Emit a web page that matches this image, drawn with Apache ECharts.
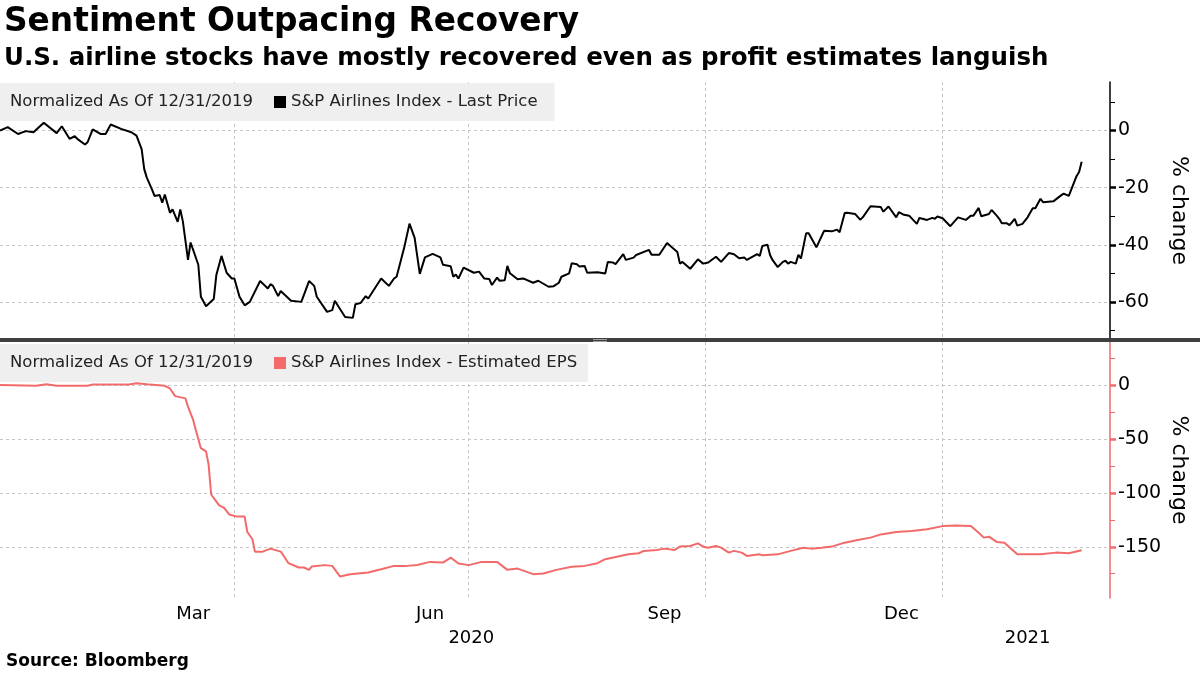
<!DOCTYPE html>
<html>
<head>
<meta charset="utf-8">
<script src="https://cdn.jsdelivr.net/npm/echarts@6/dist/echarts.min.js"></script>
<style>
html,body{margin:0;padding:0;background:#ffffff;}
#chart{width:1200px;height:675px;}
</style>
</head>
<body>
<div id="chart"></div>
<script>
// ---------- text ----------
const titleText = 'Sentiment Outpacing Recovery';
const subtitleText = 'U.S. airline stocks have mostly recovered even as profit estimates languish';
const sourceText = 'Source: Bloomberg';
const normText = 'Normalized As Of 12/31/2019';
const priceName = 'S&P Airlines Index - Last Price';
const epsName = 'S&P Airlines Index - Estimated EPS';
const axisName = '% change';

// ---------- axes ----------
const axisMin = '2020-01-01';
const axisMax = '2021-03-07';
const quarterLines = ['2020-04-01', '2020-07-01', '2020-10-01', '2021-01-01'];
const monthLabels = ['Mar', 'Jun', 'Sep', 'Dec'];
const monthLabelDates = ['2020-03-16', '2020-06-16', '2020-09-15', '2020-12-16'];
const yearLabels = ['2020', '2021'];
const yearLabelDates = ['2020-07-02', '2021-02-03'];
const priceTicksMajor = [0, -20, -40, -60];
const priceTicksMinor = [10, -10, -30, -50, -70];
const priceRange = [-73, 17];
const epsTicksMajor = [0, -50, -100, -150];
const epsTicksMinor = [25, -25, -75, -125, -175];
const epsRange = [-197.5, 40];

// ---------- data: S&P Airlines Index, last price, % change ----------
const priceDates = [
'2020-01-01','2020-01-04','2020-01-08','2020-01-11','2020-01-14','2020-01-18','2020-01-23','2020-01-25','2020-01-28','2020-01-30',
'2020-01-31','2020-02-03','2020-02-04','2020-02-06','2020-02-09','2020-02-11','2020-02-13','2020-02-17','2020-02-21','2020-02-23',
'2020-02-25','2020-02-26','2020-02-27','2020-02-29','2020-03-01','2020-03-03','2020-03-04','2020-03-05','2020-03-07','2020-03-08',
'2020-03-10','2020-03-11','2020-03-12','2020-03-14','2020-03-15','2020-03-18','2020-03-19','2020-03-21','2020-03-24','2020-03-25',
'2020-03-27','2020-03-29','2020-03-31','2020-04-01','2020-04-03','2020-04-05','2020-04-07','2020-04-11','2020-04-14','2020-04-15',
'2020-04-16','2020-04-18','2020-04-19','2020-04-23','2020-04-27','2020-04-30','2020-05-02','2020-05-03','2020-05-07','2020-05-09',
'2020-05-10','2020-05-14','2020-05-17','2020-05-18','2020-05-20','2020-05-22','2020-05-23','2020-05-28','2020-05-31','2020-06-02',
'2020-06-03','2020-06-06','2020-06-08','2020-06-10','2020-06-12','2020-06-14','2020-06-17','2020-06-20','2020-06-21','2020-06-24',
'2020-06-25','2020-06-26','2020-06-27','2020-06-29','2020-07-03','2020-07-05','2020-07-07','2020-07-09','2020-07-10','2020-07-12',
'2020-07-13','2020-07-15','2020-07-16','2020-07-17','2020-07-20','2020-07-22','2020-07-23','2020-07-26','2020-07-28','2020-08-01',
'2020-08-03','2020-08-05','2020-08-06','2020-08-09','2020-08-10','2020-08-12','2020-08-13','2020-08-15','2020-08-16','2020-08-20',
'2020-08-23','2020-08-24','2020-08-26','2020-08-27','2020-08-30','2020-08-31','2020-09-03','2020-09-04','2020-09-09','2020-09-10',
'2020-09-13','2020-09-16','2020-09-20','2020-09-21','2020-09-22','2020-09-25','2020-09-28','2020-09-30','2020-10-02','2020-10-05',
'2020-10-07','2020-10-10','2020-10-12','2020-10-14','2020-10-16','2020-10-17','2020-10-21','2020-10-22','2020-10-23','2020-10-25',
'2020-10-26','2020-10-27','2020-10-29','2020-10-31','2020-11-01','2020-11-02','2020-11-03','2020-11-05','2020-11-06','2020-11-07',
'2020-11-09','2020-11-10','2020-11-13','2020-11-16','2020-11-19','2020-11-21','2020-11-22','2020-11-24','2020-11-25','2020-11-28',
'2020-11-30','2020-12-01','2020-12-04','2020-12-08','2020-12-09','2020-12-11','2020-12-14','2020-12-15','2020-12-17','2020-12-19',
'2020-12-22','2020-12-23','2020-12-26','2020-12-28','2020-12-29','2020-12-30','2021-01-01','2021-01-04','2021-01-07','2021-01-10',
'2021-01-12','2021-01-13','2021-01-15','2021-01-16','2021-01-19','2021-01-20','2021-01-22','2021-01-23','2021-01-24','2021-01-26',
'2021-01-27','2021-01-29','2021-01-30','2021-02-01','2021-02-03','2021-02-05','2021-02-06','2021-02-08','2021-02-09','2021-02-13',
'2021-02-16','2021-02-17','2021-02-19','2021-02-22','2021-02-23','2021-02-24'
];
const priceValues = [
0, 1.2, -1.2, -0.2, -0.6, 2.7, -0.9, 1.5, -2.9, -2.0,
-2.9, -4.9, -4.1, 0.4, -1.2, -1.2, 2.1, 0.6, -0.6, -1.8,
-6.5, -13.5, -16.5, -20.6, -22.9, -22.6, -25.3, -22.4, -28.8, -27.6,
-32.0, -27.6, -31.8, -45.3, -39.2, -47.0, -58.2, -61.5, -59.0, -50.6,
-43.9, -49.8, -51.8, -51.8, -58.2, -61.2, -60.0, -52.7, -55.3, -53.8,
-54.4, -58.0, -56.2, -59.6, -60.0, -52.7, -54.4, -58.2, -63.5, -62.9,
-59.6, -65.3, -65.6, -60.8, -60.4, -58.0, -58.8, -51.8, -54.4, -51.8,
-51.2, -40.8, -32.6, -37.6, -50.2, -44.4, -43.2, -44.4, -47.0, -47.5,
-51.2, -50.4, -51.8, -48.0, -49.8, -49.4, -51.8, -52.0, -54.1, -51.5,
-52.6, -52.4, -47.4, -50.0, -52.1, -51.8, -52.1, -53.3, -52.6, -54.7,
-54.5, -53.3, -51.2, -50.0, -46.5, -46.8, -47.6, -47.4, -49.8, -49.6,
-50.1, -46.0, -46.2, -46.8, -43.3, -45.3, -44.5, -43.6, -41.8, -43.5,
-43.5, -39.4, -42.5, -46.6, -46.0, -48.4, -45.1, -46.6, -46.2, -44.2,
-46.0, -42.9, -43.3, -44.7, -44.5, -45.3, -43.3, -43.9, -40.4, -40.0,
-43.6, -45.4, -47.8, -46.0, -45.6, -46.6, -46.0, -46.6, -43.5, -44.8,
-36.0, -36.0, -40.9, -35.1, -35.3, -34.7, -35.6, -28.9, -28.8, -29.2,
-31.2, -30.4, -26.5, -26.8, -28.4, -26.6, -30.4, -28.6, -29.5, -29.8,
-32.7, -30.6, -31.3, -30.6, -30.9, -30.1, -30.7, -33.5, -30.4, -31.3,
-29.8, -29.8, -27.1, -30.0, -29.2, -27.8, -29.8, -30.9, -32.5, -32.5,
-33.1, -30.9, -33.3, -32.7, -30.4, -27.2, -27.2, -23.9, -25.1, -24.8,
-22.7, -22.1, -22.9, -16.0, -14.5, -10.9
];

// ---------- data: S&P Airlines Index, estimated EPS, % change ----------
const epsDates = [
'2020-01-01','2020-01-15','2020-01-19','2020-01-23','2020-02-04','2020-02-06','2020-02-20','2020-02-23','2020-02-27','2020-03-05',
'2020-03-07','2020-03-09','2020-03-13','2020-03-14','2020-03-16','2020-03-17','2020-03-19','2020-03-21','2020-03-22','2020-03-23',
'2020-03-26','2020-03-28','2020-03-30','2020-04-02','2020-04-05','2020-04-06','2020-04-08','2020-04-09','2020-04-12','2020-04-15',
'2020-04-19','2020-04-20','2020-04-22','2020-04-26','2020-04-28','2020-04-30','2020-05-01','2020-05-06','2020-05-09','2020-05-12',
'2020-05-16','2020-05-23','2020-05-28','2020-06-02','2020-06-07','2020-06-11','2020-06-16','2020-06-21','2020-06-24','2020-06-27',
'2020-07-01','2020-07-06','2020-07-12','2020-07-16','2020-07-20','2020-07-26','2020-07-30','2020-08-04','2020-08-10','2020-08-15',
'2020-08-20','2020-08-23','2020-08-28','2020-09-01','2020-09-05','2020-09-07','2020-09-12','2020-09-15','2020-09-19','2020-09-21',
'2020-09-25','2020-09-28','2020-09-30','2020-10-02','2020-10-05','2020-10-07','2020-10-10','2020-10-12','2020-10-15','2020-10-17',
'2020-10-19','2020-10-22','2020-10-23','2020-10-29','2020-11-03','2020-11-08','2020-11-11','2020-11-15','2020-11-19','2020-11-23',
'2020-11-29','2020-12-04','2020-12-08','2020-12-14','2020-12-20','2020-12-26','2021-01-01','2021-01-06','2021-01-12','2021-01-15',
'2021-01-17','2021-01-19','2021-01-22','2021-01-25','2021-01-30','2021-02-08','2021-02-14','2021-02-19','2021-02-24'
];
const epsValues = [
0, -0.6, 0.9, -0.6, -0.6, 0.6, 0.6, 1.8, 0.9, -0.6,
-3.1, -10.2, -12.3, -20.0, -32.3, -41.5, -58.5, -61.5, -73.8, -101.5,
-111.4, -113.8, -120.0, -122.0, -122.0, -136.0, -143.0, -154.5, -154.5, -151.7,
-154.5, -157.8, -165.2, -169.2, -169.2, -171.4, -168.3, -167.0, -167.7, -177.5,
-175.4, -173.8, -170.8, -167.7, -167.7, -166.8, -164.0, -164.6, -160.0, -165.5,
-167.0, -164.0, -164.0, -171.4, -170.2, -175.4, -174.8, -171.4, -168.6, -167.7,
-165.2, -161.5, -159.0, -157.0, -156.0, -153.8, -152.9, -151.7, -152.9, -149.8,
-149.2, -146.8, -149.8, -150.8, -149.2, -150.8, -155.4, -153.8, -155.4, -158.5,
-157.8, -157.0, -157.8, -157.0, -153.8, -150.8, -151.7, -150.8, -149.8, -146.8,
-143.7, -141.5, -138.5, -136.3, -135.4, -133.8, -130.8, -130.2, -130.8, -136.9,
-141.5, -140.6, -145.5, -146.2, -156.9, -156.9, -155.4, -156.0, -153.2
];

// ---------- helpers ----------
function T(s) { const p = s.split('-').map(Number); return new Date(p[0], p[1] - 1, p[2]).getTime(); }
function lookup(dates, labels) {
  const ts = dates.map(T);
  return function (v) {
    for (let i = 0; i < ts.length; i++) { if (Math.abs(ts[i] - v) < 3600000) return labels[i]; }
    return '';
  };
}

const FONT = 'DejaVu Sans';
const RED = '#f26a6a';
const GRID_LINE = { show: true, lineStyle: { color: '#c6c6c6', width: 1, type: [3, 3] } };
const LEG_BG = '#efefef';

const priceData = priceDates.map((d, i) => [T(d), priceValues[i]]);
const epsData = epsDates.map((d, i) => [T(d), epsValues[i]]);

function dateAxis(gridIndex, extra) {
  return Object.assign({
    type: 'value', gridIndex: gridIndex, position: 'bottom', min: T(axisMin), max: T(axisMax), scale: true,
    axisLine: { show: false },
    axisTick: { show: false, customValues: quarterLines.map(T) },
    axisLabel: { show: false },
    splitLine: GRID_LINE
  }, extra || {});
}

function valueAxes(gridIndex, range, major, minor, lineColor) {
  return [
    {
      type: 'value', gridIndex: gridIndex, position: 'right', min: range[0], max: range[1],
      axisLine: { show: true, onZero: false, lineStyle: { color: lineColor, width: 1.5 } },
      axisTick: { show: true, customValues: minor, length: 5, lineStyle: { color: lineColor, width: 1 } },
      axisLabel: { show: false },
      splitLine: { show: false },
      name: axisName, nameLocation: 'middle', nameRotate: -90, nameGap: 58,
      nameTextStyle: { fontFamily: FONT, fontSize: 22, color: '#000' }
    },
    {
      type: 'value', gridIndex: gridIndex, position: 'right', min: range[0], max: range[1],
      axisLine: { show: false, onZero: false },
      axisTick: { show: true, customValues: major, length: 6, lineStyle: { color: lineColor, width: 2.5 } },
      axisLabel: { show: true, customValues: major, fontFamily: FONT, fontSize: 19, color: '#000', margin: 8 },
      splitLine: GRID_LINE
    }
  ];
}

const chart = echarts.init(document.getElementById('chart'), null, { renderer: 'canvas' });
chart.setOption({
  animation: false,
  backgroundColor: '#ffffff',
  title: [
    { text: titleText, left: 4, top: 6, padding: 0,
      textStyle: { fontFamily: FONT, fontWeight: 'bold', fontSize: 32.8, color: '#000' } },
    { text: subtitleText, left: 4, top: 46, padding: 0,
      textStyle: { fontFamily: FONT, fontWeight: 'bold', fontSize: 24.5, color: '#000' } },
    { text: sourceText, left: 6, top: 653, padding: 0,
      textStyle: { fontFamily: FONT, fontWeight: 'bold', fontSize: 17, color: '#000' } },
    { text: normText, left: 0, top: 83, padding: [9, 11, 9, 10], backgroundColor: LEG_BG,
      textStyle: { fontFamily: FONT, fontWeight: 'normal', fontSize: 16.5, lineHeight: 20, color: '#222' } },
    { text: normText, left: 0, top: 344, padding: [9, 11, 9, 10], backgroundColor: LEG_BG,
      textStyle: { fontFamily: FONT, fontWeight: 'normal', fontSize: 16.5, lineHeight: 20, color: '#222' } }
  ],
  legend: [
    { data: [priceName], left: 263, top: 83, padding: [9, 17, 9, 11], backgroundColor: LEG_BG,
      itemWidth: 12, itemHeight: 12, icon: 'rect', selectedMode: false,
      textStyle: { fontFamily: FONT, fontSize: 16.5, lineHeight: 20, color: '#222' } },
    { data: [epsName], left: 263, top: 344, padding: [9, 11, 9, 11], backgroundColor: LEG_BG,
      itemWidth: 12, itemHeight: 12, icon: 'rect', selectedMode: false,
      textStyle: { fontFamily: FONT, fontSize: 16.5, lineHeight: 20, color: '#222' } }
  ],
  grid: [
    { left: 0, right: 90, top: 82, height: 257 },
    { left: 0, right: 90, top: 342, height: 256 }
  ],
  xAxis: [
    dateAxis(0),
    dateAxis(1, {
      axisLabel: { show: true, customValues: monthLabelDates.map(T), formatter: lookup(monthLabelDates, monthLabels),
        fontFamily: FONT, fontSize: 18, color: '#000', margin: 7, hideOverlap: false }
    }),
    dateAxis(1, {
      splitLine: { show: false },
      axisLabel: { show: true, customValues: yearLabelDates.map(T), formatter: lookup(yearLabelDates, yearLabels),
        fontFamily: FONT, fontSize: 18, color: '#000', margin: 31, hideOverlap: false }
    })
  ],
  yAxis: [].concat(
    valueAxes(0, priceRange, priceTicksMajor, priceTicksMinor, '#000000'),
    valueAxes(1, epsRange, epsTicksMajor, epsTicksMinor, RED)
  ),
  series: [
    { name: priceName, type: 'line', xAxisIndex: 0, yAxisIndex: 0, data: priceData,
      showSymbol: false, color: '#000000', lineStyle: { width: 2, color: '#000000' }, z: 5 },
    { name: epsName, type: 'line', xAxisIndex: 1, yAxisIndex: 2, data: epsData,
      showSymbol: false, color: RED, lineStyle: { width: 2, color: RED }, z: 5 }
  ],
  graphic: [
    { type: 'rect', shape: { x: 0, y: 338, width: 1200, height: 4 }, style: { fill: '#3f3f3f' }, z: 100 },
    { type: 'line', shape: { x1: 593, y1: 339.5, x2: 607, y2: 339.5 }, style: { stroke: '#a0a0a0', lineWidth: 1 }, z: 101 },
    { type: 'line', shape: { x1: 593, y1: 341.5, x2: 607, y2: 341.5 }, style: { stroke: '#a0a0a0', lineWidth: 1 }, z: 101 }
  ]
});
</script>
</body>
</html>
